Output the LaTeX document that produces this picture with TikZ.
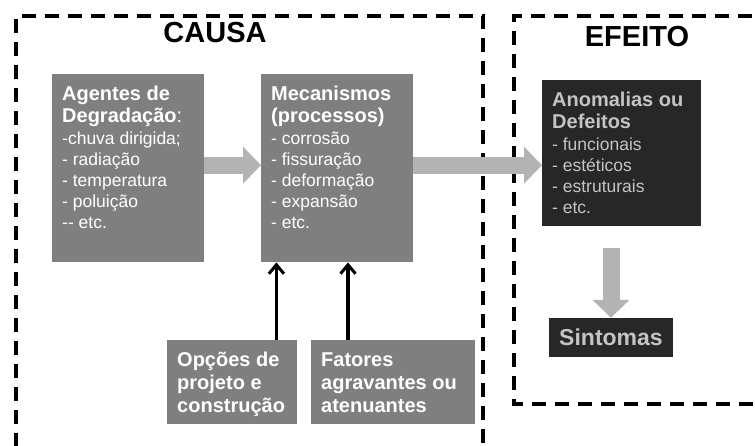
\documentclass[tikz,border=0pt]{standalone}
\usepackage{fontspec}
\setmainfont{Liberation Sans}
\usetikzlibrary{arrows.meta}
\definecolor{boxgrey}{HTML}{7F7F7F}
\definecolor{darkfill}{HTML}{272727}
\definecolor{arrowgrey}{HTML}{B3B3B3}
\definecolor{lighttext}{HTML}{C4C4C4}
\newcommand{\hdfont}{\fontsize{20}{22.5}\selectfont\bfseries}
\newcommand{\lsfont}{\fontsize{17.5}{21}\selectfont\mdseries}
\newcommand{\firststrut}{\rule{0pt}{26pt}}
\newcommand{\boxcontent}[3]{\begin{minipage}[c][#2][t]{#1}\raggedright #3\end{minipage}}
\begin{document}
\begin{tikzpicture}[x=1pt,y=-1pt,
  greybox/.style={fill=boxgrey, text=white, inner xsep=10pt, inner ysep=0pt, anchor=north west},
  blackbox/.style={fill=darkfill, text=lighttext, inner xsep=10pt, inner ysep=0pt, anchor=north west},
  titletext/.style={font=\fontsize{29}{32}\selectfont\bfseries, text=black, inner sep=0pt},
  dashbox/.style={draw=black, line width=3.2pt, dash pattern=on 14pt off 9pt},
  bigarrow/.style={draw=arrowgrey, line width=17pt, -{Triangle[length=18pt,width=36pt]}},
  blackarrow/.style={draw=black, line width=3.2pt, -{Straight Barb[length=9pt,width=15pt,line width=3pt]}}]
\clip (0,0) rectangle (755,445);
\fill[white] (0,0) rectangle (755,445);
% dashed frames
\draw[dashbox] (16,470) |- (483,16) -- (483,470);
\draw[dashbox] (775,16) -| (514,404) -- (775,404);
% titles
\node[titletext] (causa) at (215,33) {CAUSA};
\node[titletext] (efeito) at (637,37) {EFEITO};
% boxes
\node[greybox] (ag) at (52,74) {\boxcontent{132pt}{188pt}{\hdfont\firststrut Agentes de\\Degradação{\mdseries:}\par\vspace{1pt}\lsfont -chuva dirigida;\\- radiação\\- temperatura\\- poluição\\-{}- etc.}};
\node[greybox] (mec) at (261,74) {\boxcontent{132pt}{188pt}{\hdfont\firststrut Mecanismos\\(processos)\par\vspace{1pt}\lsfont - corrosão\\- fissuração\\- deformação\\- expansão\\- etc.}};
\node[blackbox] (an) at (542,80) {\boxcontent{139pt}{146pt}{\hdfont\firststrut Anomalias ou\\Defeitos\par\vspace{1pt}\lsfont - funcionais\\- estéticos\\- estruturais\\- etc.}};
\node[greybox] (op) at (167,340) {\boxcontent{110pt}{84pt}{\fontsize{20}{23}\selectfont\bfseries\firststrut Opções de\\projeto e\\construção}};
\node[greybox] (fa) at (311,340) {\boxcontent{144pt}{84pt}{\fontsize{20}{23}\selectfont\bfseries\firststrut Fatores\\agravantes ou\\atenuantes}};
\node[fill=darkfill, text=lighttext, inner sep=0pt, minimum width=124pt, minimum height=39pt, font=\fontsize{23}{25}\selectfont\bfseries] (sin) at (611,337.5) {Sintomas};
% grey arrows
\draw[bigarrow] ([yshift=3pt]ag.east) -- ([yshift=3pt]mec.west);
\coordinate (a2) at ([yshift=3pt]mec.east);
\draw[bigarrow] (a2) -- (a2 -| an.west);
\coordinate (dtop) at ([yshift=-22pt]an.south);
\draw[bigarrow] (dtop -| sin.north) -- (sin.north);
% black arrows
\coordinate (b1) at ([xshift=-21pt]op.north east);
\draw[blackarrow] (b1) -- (b1 |- mec.south);
\coordinate (b2) at ([xshift=37pt]fa.north west);
\draw[blackarrow] (b2) -- (b2 |- mec.south);
\end{tikzpicture}
\end{document}
